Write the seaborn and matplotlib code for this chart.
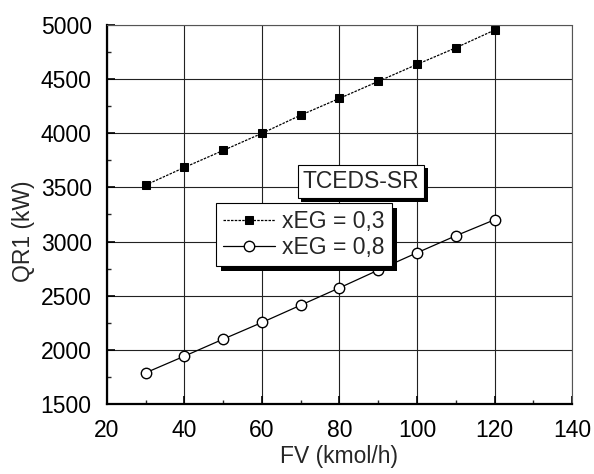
import matplotlib
matplotlib.use("Agg")
import matplotlib.pyplot as plt
import seaborn as sns
import pandas as pd
from matplotlib.ticker import MultipleLocator
from matplotlib import patheffects as pe

fv = [30, 40, 50, 60, 70, 80, 90, 100, 110, 120]
q_03 = [3522, 3685, 3842, 4000, 4168, 4323, 4480, 4637, 4790, 4954]
q_08 = [1787, 1941, 2098, 2252, 2412, 2572, 2736, 2896, 3053, 3201]
labels = ["xEG = 0,3", "xEG = 0,8"]
box_title = "TCEDS-SR"

sns.set_style("ticks")
plt.rcParams["font.family"] = ["Liberation Sans", "DejaVu Sans"]

FS = 16.5

fig = plt.figure(figsize=(5.94, 4.74), dpi=100)
ax = fig.add_axes([0.180, 0.148, 0.783, 0.799])

df1 = pd.DataFrame({"FV": fv, "Q": q_03})
df2 = pd.DataFrame({"FV": fv, "Q": q_08})

sns.lineplot(data=df1, x="FV", y="Q", ax=ax, color="black", lw=0.9,
             linestyle=(0, (2, 1)), marker="s", markersize=6,
             markerfacecolor="black", markeredgecolor="black",
             label=labels[0], zorder=3)
sns.lineplot(data=df2, x="FV", y="Q", ax=ax, color="black", lw=0.9,
             marker="o", markersize=7.5, markerfacecolor="white",
             markeredgecolor="black", markeredgewidth=1.0,
             label=labels[1], zorder=3)

ax.set_xlim(20, 140)
ax.set_ylim(1500, 5000)
ax.xaxis.set_major_locator(MultipleLocator(20))
ax.xaxis.set_minor_locator(MultipleLocator(10))
ax.yaxis.set_major_locator(MultipleLocator(500))
ax.yaxis.set_minor_locator(MultipleLocator(250))

ax.grid(True, which="major", color="#222222", lw=0.8, linestyle="-")
ax.set_axisbelow(True)

for s in ["left", "bottom"]:
    ax.spines[s].set_color("black")
    ax.spines[s].set_linewidth(1.6)
for s in ["top", "right"]:
    ax.spines[s].set_color("#555555")
    ax.spines[s].set_linewidth(0.8)
    ax.spines[s].set_linestyle((0, (1, 1)))

ax.tick_params(which="major", direction="in", length=6, width=1.2,
               labelsize=FS, pad=11, colors="black")
ax.tick_params(which="minor", direction="in", length=3, width=1.0)

ax.set_xlabel("FV (kmol/h)", fontsize=FS)
ax.set_ylabel("QR1 (kW)", fontsize=FS)
ax.xaxis.set_label_coords(0.5, -0.108)
ax.yaxis.set_label_coords(-0.155, 0.456)

leg = ax.legend(loc="upper left", bbox_to_anchor=(0.234, 0.530),
                borderaxespad=0, frameon=True, fancybox=False,
                fontsize=FS, handlelength=2.3, handletextpad=0.3,
                labelspacing=0.12, borderpad=0.3)
frame = leg.get_frame()
frame.set_edgecolor("black")
frame.set_linewidth(0.8)
frame.set_alpha(1)
frame.set_path_effects([pe.SimplePatchShadow(offset=(3.6, -3.6),
                                             shadow_rgbFace="black", alpha=1),
                        pe.Normal()])

t = ax.text(0.546, 0.587, box_title, transform=ax.transAxes, ha="center",
            va="center", fontsize=FS, zorder=6,
            bbox=dict(boxstyle="square,pad=0.22", fc="white", ec="black", lw=0.8))
t.get_bbox_patch().set_path_effects([pe.SimplePatchShadow(offset=(2.5, -2.5),
                                                          shadow_rgbFace="black", alpha=1),
                                     pe.Normal()])

fig.savefig("out.png", dpi=100)
